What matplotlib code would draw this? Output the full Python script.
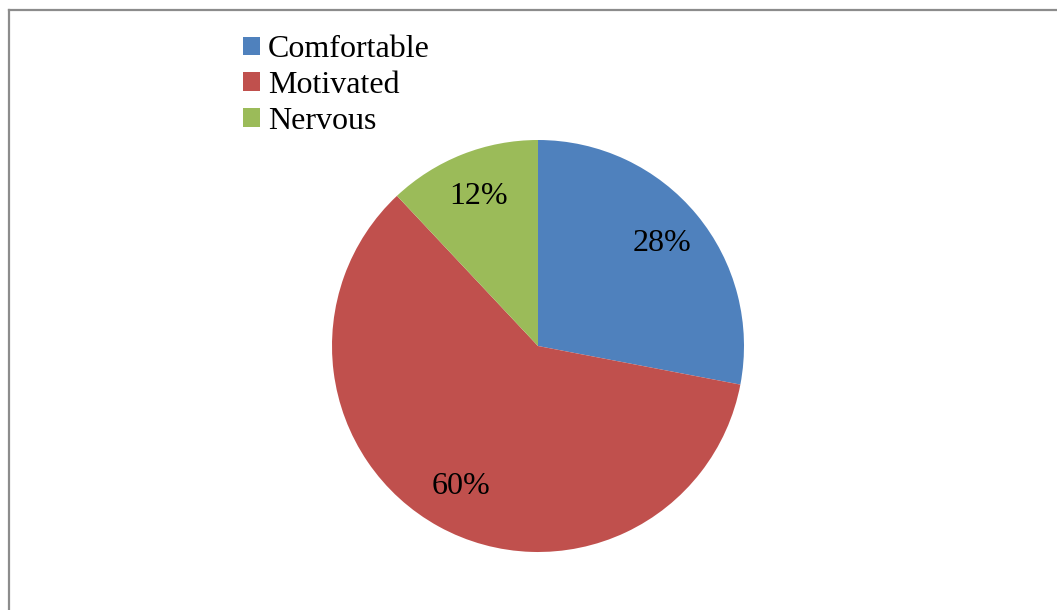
import matplotlib
matplotlib.use("Agg")
import matplotlib.pyplot as plt
from matplotlib.patches import Patch
from matplotlib.lines import Line2D

categories = ["Comfortable", "Motivated", "Nervous"]
values = [28, 60, 12]
colors = ["#4F81BD", "#C0504D", "#9BBB59"]

W, H = 1057, 610
fig = plt.figure(figsize=(W / 100, H / 100), dpi=100)
plt.rcParams["font.family"] = ["Liberation Serif", "DejaVu Serif"]

cx, cy, r = 538, 346, 206
ax = fig.add_axes([(cx - r) / W, (H - cy - r) / H, 2 * r / W, 2 * r / H])
wedges, texts, autotexts = ax.pie(
    values, colors=colors, startangle=90, counterclock=False,
    autopct="%1.0f%%", pctdistance=0.78,
    textprops=dict(fontsize=23, color="black", family="Liberation Serif"),
    wedgeprops=dict(linewidth=0),
)
ax.set_xlim(-1, 1)
ax.set_ylim(-1, 1)
ax.set_aspect("equal")
ax.axis("off")

handles = [Patch(facecolor=c, edgecolor="none") for c in colors]
fig.legend(handles, categories, loc="upper left",
           bbox_to_anchor=(220.5 / W, 1 - 13 / H), frameon=False,
           prop=dict(family="Liberation Serif", size=23),
           handlelength=0.53, handleheight=0.53, handletextpad=0.25,
           labelspacing=0.21, borderpad=0.2)

# outer frame (left and top edges)
fig.add_artist(Line2D([9 / W, 9 / W], [0, 1 - 10 / H], transform=fig.transFigure,
                      color="#8c8c8c", lw=1.6))
fig.add_artist(Line2D([9 / W, 1], [1 - 10 / H, 1 - 10 / H], transform=fig.transFigure,
                      color="#8c8c8c", lw=1.6))

fig.savefig("out.png", dpi=100)
